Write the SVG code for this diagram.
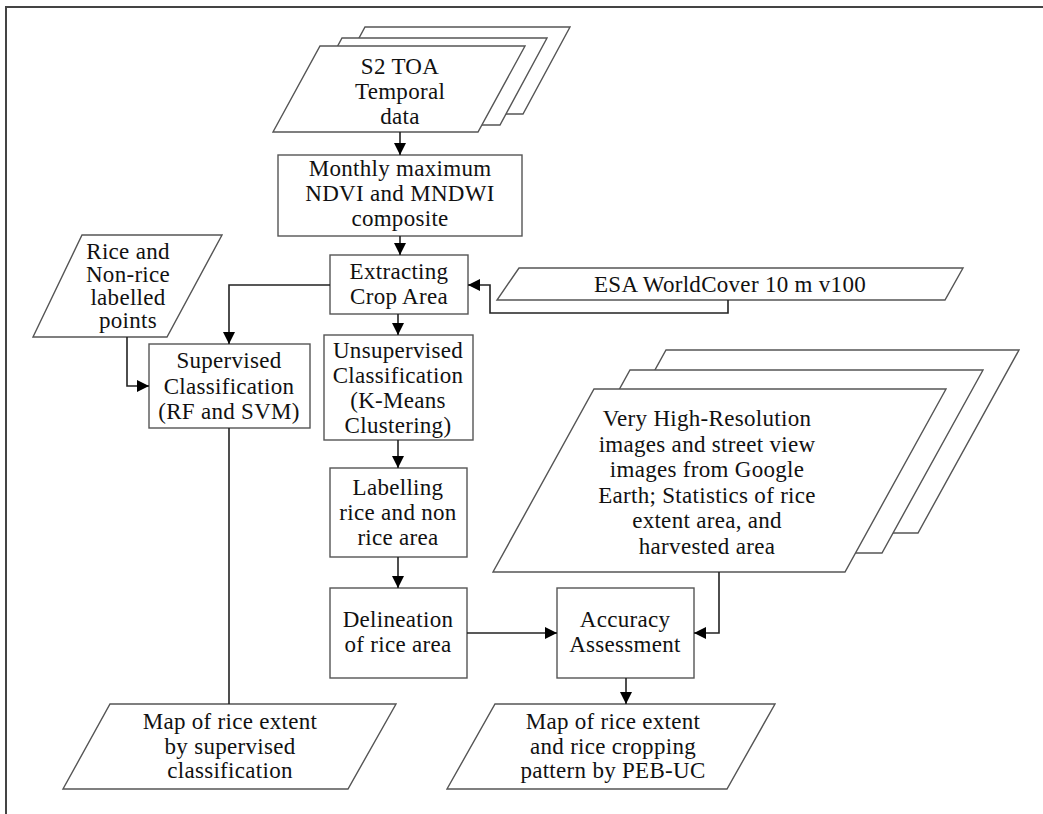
<svg xmlns="http://www.w3.org/2000/svg" width="1043" height="814" viewBox="0 0 1043 814">
<style>
.s{fill:#fff;stroke:#555;stroke-width:1.4}
.t{font-family:"Liberation Serif","Times New Roman",serif;font-size:23px;letter-spacing:0.3px;fill:#111;text-anchor:middle}
.c{fill:none;stroke:#222;stroke-width:1.6}
.b{fill:none;stroke:#444;stroke-width:2}
</style>
<defs>
<marker id="arr" viewBox="0 0 12 12" refX="12" refY="6" markerWidth="12" markerHeight="12" orient="auto" markerUnits="userSpaceOnUse">
<path d="M0,0 L12,6 L0,12 z" fill="#000"/>
</marker>
</defs>
<rect width="1043" height="814" fill="#fff"/>
<path class="b" d="M6,814 V7 H1043"/>

<g id="s2toa">
<polygon class="s" points="365,27 570,27 523,114 318,114"/>
<polygon class="s" points="342,38 547,38 500,125 295,125"/>
<polygon class="s" points="320,46 525,46 478,132 273,132"/>
<text class="t" x="400" y="74">S2 TOA</text>
<text class="t" x="400" y="99">Temporal</text>
<text class="t" x="400" y="124">data</text>
</g>

<g id="monthly">
<rect class="s" x="278" y="155" width="244" height="81"/>
<text class="t" x="400" y="176">Monthly maximum</text>
<text class="t" x="400" y="201">NDVI and MNDWI</text>
<text class="t" x="400" y="226">composite</text>
</g>

<g id="extracting">
<rect class="s" x="330" y="255" width="138" height="59"/>
<text class="t" x="399" y="279">Extracting</text>
<text class="t" x="399" y="304">Crop Area</text>
</g>

<g id="esa">
<polygon class="s" points="519,268 963,268 945,300 497,300"/>
<text class="t" x="730" y="292">ESA  WorldCover 10 m v100</text>
</g>

<g id="rice-points">
<polygon class="s" points="82,235 222,235 167,337 33,337"/>
<text class="t" x="128" y="259">Rice and</text>
<text class="t" x="128" y="282">Non-rice</text>
<text class="t" x="128" y="305">labelled</text>
<text class="t" x="128" y="328">points</text>
</g>

<g id="supervised">
<rect class="s" x="149" y="344" width="161" height="84"/>
<text class="t" x="229" y="368">Supervised</text>
<text class="t" x="229" y="394">Classification</text>
<text class="t" x="229" y="419">(RF and SVM)</text>
</g>

<g id="unsupervised">
<rect class="s" x="324" y="335" width="149" height="105"/>
<text class="t" x="398" y="358">Unsupervised</text>
<text class="t" x="398" y="383">Classification</text>
<text class="t" x="398" y="408">(K-Means</text>
<text class="t" x="398" y="433">Clustering)</text>
</g>

<g id="labelling">
<rect class="s" x="330" y="468" width="137" height="89"/>
<text class="t" x="398" y="495">Labelling</text>
<text class="t" x="398" y="520">rice and non</text>
<text class="t" x="398" y="545">rice area</text>
</g>

<g id="delineation">
<rect class="s" x="330" y="588" width="137" height="90"/>
<text class="t" x="398" y="627">Delineation</text>
<text class="t" x="398" y="652">of rice area</text>
</g>

<g id="vhr">
<polygon class="s" points="666,350 1019,350 918,533 565,533"/>
<polygon class="s" points="630,370 983,370 882,553 529,553"/>
<polygon class="s" points="594,389 946,389 845,572 493,572"/>
<text class="t" x="707" y="426">Very High-Resolution</text>
<text class="t" x="707" y="452">images and street view</text>
<text class="t" x="707" y="477">images from Google</text>
<text class="t" x="707" y="503">Earth; Statistics of rice</text>
<text class="t" x="707" y="528">extent area, and</text>
<text class="t" x="707" y="554">harvested area</text>
</g>

<g id="accuracy">
<rect class="s" x="557" y="588" width="137" height="90"/>
<text class="t" x="625" y="627">Accuracy</text>
<text class="t" x="625" y="652">Assessment</text>
</g>

<g id="map-supervised">
<polygon class="s" points="110,704 396,704 348,789 63,789"/>
<text class="t" x="230" y="729">Map of rice extent</text>
<text class="t" x="230" y="754">by supervised</text>
<text class="t" x="230" y="778">classification</text>
</g>

<g id="map-pebuc">
<polygon class="s" points="495,704 775,704 727,789 447,789"/>
<text class="t" x="613" y="729">Map of rice extent</text>
<text class="t" x="613" y="754">and rice cropping</text>
<text class="t" x="613" y="778">pattern by PEB-UC</text>
</g>

<g id="connectors">
<path class="c" d="M400,132 V155" marker-end="url(#arr)"/>
<path class="c" d="M400,236 V255" marker-end="url(#arr)"/>
<path class="c" d="M330,285 H229 V344" marker-end="url(#arr)"/>
<path class="c" d="M728,300 V313 H490 V285 H468" marker-end="url(#arr)"/>
<path class="c" d="M127,337 V386 H149" marker-end="url(#arr)"/>
<path class="c" d="M398,314 V335" marker-end="url(#arr)"/>
<path class="c" d="M398,440 V468" marker-end="url(#arr)"/>
<path class="c" d="M398,557 V588" marker-end="url(#arr)"/>
<path class="c" d="M467,633 H557" marker-end="url(#arr)"/>
<path class="c" d="M719,572 V633 H694" marker-end="url(#arr)"/>
<path class="c" d="M626,678 V704" marker-end="url(#arr)"/>
<path class="c" d="M229,428 V704"/>
</g>
</svg>
